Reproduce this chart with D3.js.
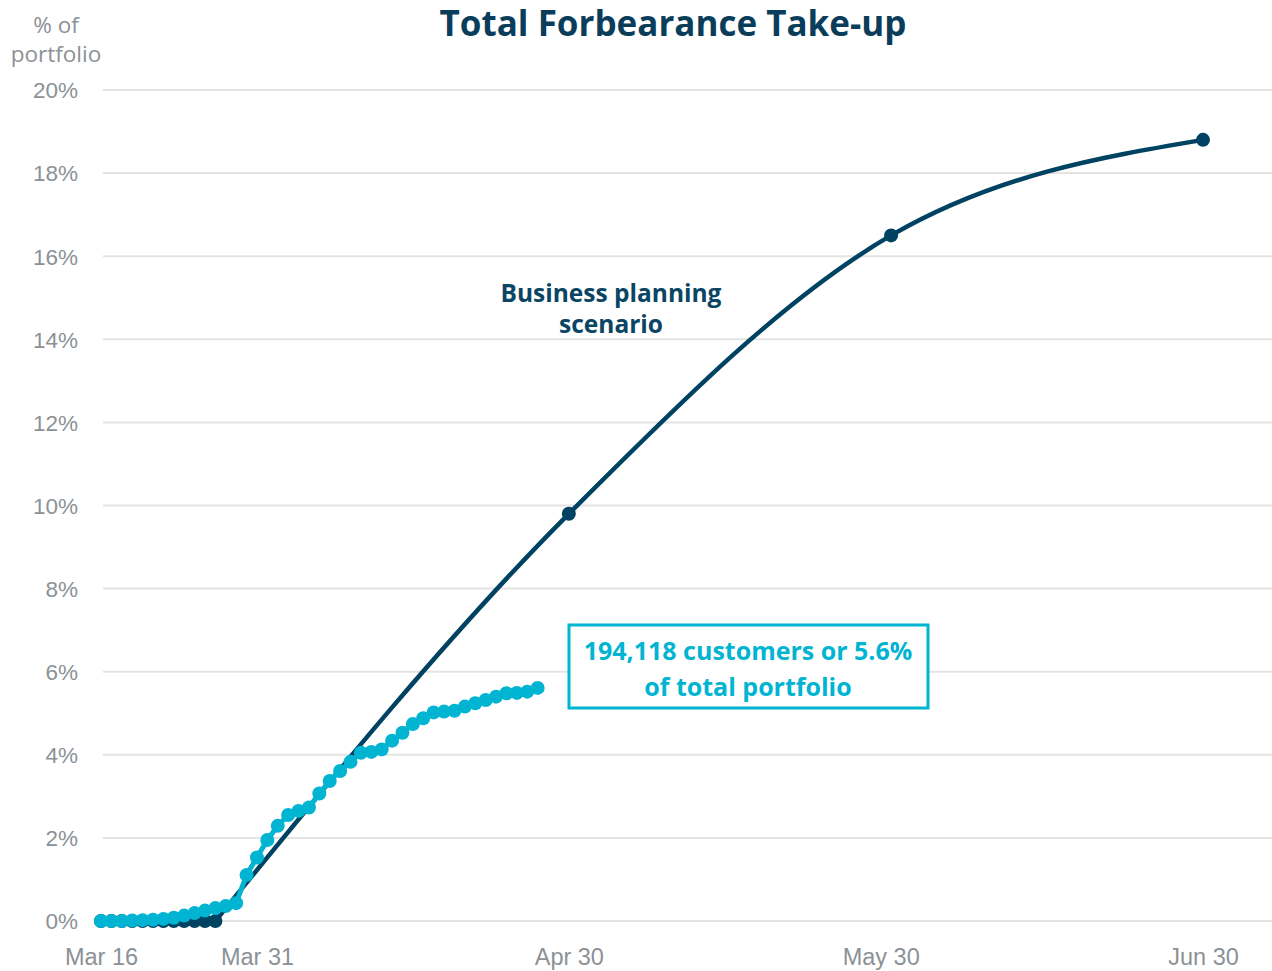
<!DOCTYPE html>
<html>
<head>
<meta charset="utf-8">
<script src="https://cdn.jsdelivr.net/npm/d3@7"></script>
<style>
  html, body { margin: 0; padding: 0; background: #fff; }
  svg { display: block; font-family: "Open Sans", "Noto Sans", sans-serif; }
</style>
</head>
<body>
<svg id="chart" width="1272" height="971"></svg>
<script>
// Daily forbearance take-up, % of portfolio, Mar 16 – Apr 27
const actualStart = "2020-03-16";
const actualValues = [
  0, 0, 0, 0.01, 0.02, 0.03, 0.05, 0.08, 0.13, 0.19, 0.25, 0.31, 0.36, 0.43,
  1.11, 1.53, 1.95, 2.29, 2.55, 2.65, 2.73, 3.07, 3.37, 3.61, 3.83, 4.05,
  4.07, 4.13, 4.34, 4.53, 4.74, 4.88, 5.02, 5.04, 5.06, 5.16, 5.24, 5.32,
  5.40, 5.48, 5.49, 5.52, 5.61
];

// Business planning scenario: flat daily points, then month-end projections
const scenarioFlatDates = ["2020-03-16","2020-03-17","2020-03-18","2020-03-19","2020-03-20","2020-03-21",
                           "2020-03-22","2020-03-23","2020-03-24","2020-03-25","2020-03-26","2020-03-27"];
const scenarioFlatValues = [0, 0, 0, 0, 0, 0, 0, 0, 0, 0, 0, 0];
const scenarioDates = ["2020-03-27", "2020-04-30", "2020-05-31", "2020-06-30"];
const scenarioValues = [0, 9.8, 16.5, 18.8];
const scenarioMarked = [false, true, true, true];

const yTicks = [0, 2, 4, 6, 8, 10, 12, 14, 16, 18, 20];
const xTickDates = ["2020-03-16", "2020-03-31", "2020-04-30", "2020-05-30", "2020-06-30"];
const xTickLabels = ["Mar 16", "Mar 31", "Apr 30", "May 30", "Jun 30"];

const NAVY = "#004261";
const CYAN = "#00b4d2";
const GREY = "#8c9196";
const GRID = "#e3e3e3";

const parse = d3.utcParse("%Y-%m-%d");
const svg = d3.select("#chart");

const x = d3.scaleUtc()
  .domain([parse("2020-03-16"), parse("2020-06-30")])
  .range([101, 1203]);
const y = d3.scaleLinear().domain([0, 20]).range([921, 90]);

const gridLeft = 103, gridRight = 1272;

// Gridlines and y tick labels
const yAxis = d3.axisLeft(y).tickValues(yTicks).tickSize(0).tickPadding(0)
  .tickFormat(d => d + "%");
const gy = svg.append("g").attr("transform", `translate(78,0)`).call(yAxis);
gy.select(".domain").remove();
gy.selectAll("text").attr("fill", GREY).attr("font-size", 22.5).attr("dy", "0.35em");

svg.append("g").selectAll("line").data(yTicks).join("line")
  .attr("x1", gridLeft).attr("x2", gridRight)
  .attr("y1", d => y(d)).attr("y2", d => y(d))
  .attr("stroke", GRID).attr("stroke-width", 2);

// x axis labels
const xAxis = d3.axisBottom(x)
  .tickValues(xTickDates.map(parse))
  .tickSize(0).tickPadding(0)
  .tickFormat((d, i) => xTickLabels[i]);
const gx = svg.append("g").attr("transform", `translate(0,957)`).call(xAxis);
gx.select(".domain").remove();
gx.selectAll("text").attr("fill", GREY).attr("font-size", 23.5).attr("dy", "0.35em");

// Axis title
svg.append("text").attr("x", 56).attr("y", 33).attr("text-anchor", "middle")
  .attr("fill", GREY).attr("font-size", 22.5).text("% of");
svg.append("text").attr("x", 56).attr("y", 62).attr("text-anchor", "middle")
  .attr("fill", GREY).attr("font-size", 22.5).text("portfolio");

// Chart title
svg.append("text").attr("x", 673).attr("y", 36).attr("text-anchor", "middle")
  .attr("fill", "#0a3d5a").attr("font-size", 35).attr("font-weight", 700)
  .text("Total Forbearance Take-up");

// Scenario line
const scen = scenarioDates.map((d, i) => ({ date: parse(d), v: scenarioValues[i], m: scenarioMarked[i] }));
svg.append("path").datum(scen)
  .attr("fill", "none").attr("stroke", NAVY).attr("stroke-width", 4.5)
  .attr("d", d3.line().x(d => x(d.date)).y(d => y(d.v)).curve(d3.curveMonotoneX));

const flat = scenarioFlatDates.map((d, i) => ({ date: parse(d), v: scenarioFlatValues[i] }));
svg.append("path").datum(flat)
  .attr("fill", "none").attr("stroke", NAVY).attr("stroke-width", 4.5)
  .attr("d", d3.line().x(d => x(d.date)).y(d => y(d.v)));
svg.append("g").selectAll("circle").data(flat).join("circle")
  .attr("cx", d => x(d.date)).attr("cy", d => y(d.v)).attr("r", 7).attr("fill", NAVY);
svg.append("g").selectAll("circle").data(scen.filter(d => d.m)).join("circle")
  .attr("cx", d => x(d.date)).attr("cy", d => y(d.v)).attr("r", 7).attr("fill", NAVY);

// Actual take-up series
const start = parse(actualStart);
const actual = actualValues.map((v, i) => ({ date: d3.utcDay.offset(start, i), v }));
svg.append("path").datum(actual)
  .attr("fill", "none").attr("stroke", CYAN).attr("stroke-width", 5)
  .attr("d", d3.line().x(d => x(d.date)).y(d => y(d.v)));
svg.append("g").selectAll("circle").data(actual).join("circle")
  .attr("cx", d => x(d.date)).attr("cy", d => y(d.v)).attr("r", 7).attr("fill", CYAN);

// Scenario annotation
svg.append("text").attr("x", 611).attr("y", 302).attr("text-anchor", "middle")
  .attr("fill", "#0a4563").attr("font-size", 24.5).attr("font-weight", 700)
  .text("Business planning");
svg.append("text").attr("x", 611).attr("y", 333).attr("text-anchor", "middle")
  .attr("fill", "#0a4563").attr("font-size", 24.5).attr("font-weight", 700)
  .text("scenario");

// Latest value callout
const last = actual[actual.length - 1];
svg.append("rect").attr("x", 569).attr("y", 625).attr("width", 359).attr("height", 83)
  .attr("fill", "#fff").attr("stroke", CYAN).attr("stroke-width", 3);
svg.append("text").attr("x", 748).attr("y", 660).attr("text-anchor", "middle")
  .attr("fill", CYAN).attr("font-size", 25).attr("font-weight", 700)
  .text(`194,118 customers or ${last.v.toFixed(1)}%`);
svg.append("text").attr("x", 748).attr("y", 696).attr("text-anchor", "middle")
  .attr("fill", CYAN).attr("font-size", 25).attr("font-weight", 700)
  .text("of total portfolio");
</script>
</body>
</html>
